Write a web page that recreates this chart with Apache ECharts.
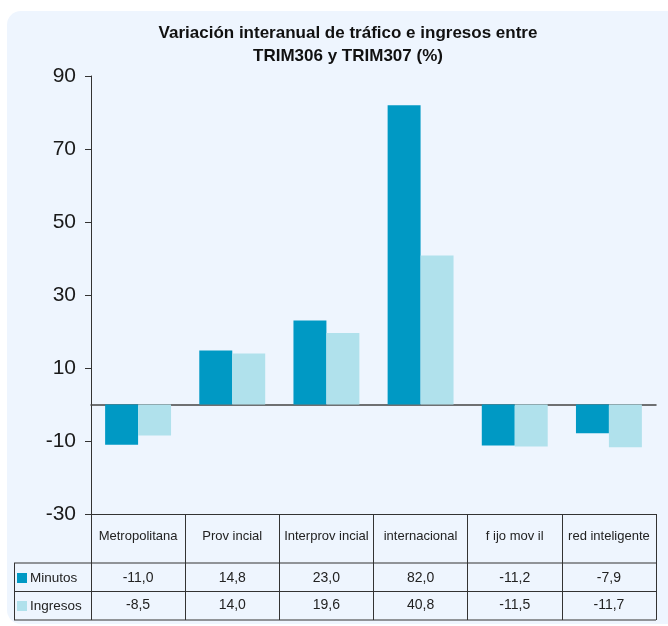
<!DOCTYPE html>
<html>
<head>
<meta charset="utf-8">
<script src="https://cdn.jsdelivr.net/npm/echarts@6/dist/echarts.min.js"></script>
<style>
  html, body { margin: 0; padding: 0; background: #fff; }
  #chart { width: 668px; height: 626px; }
</style>
</head>
<body>
<div id="chart"></div>
<script>
// datos del gráfico
var categorias = ["Metropolitana", "Prov incial", "Interprov incial", "internacional", "f ijo mov il", "red inteligente"];
var minutos = [-11.0, 14.8, 23.0, 82.0, -11.2, -7.9];
var ingresos = [-8.5, 14.0, 19.6, 40.8, -11.5, -11.7];
var ejeY = { min: -30, max: 90, interval: 20 };

function coma(v) {
  return v.toFixed(1).replace(".", ",");
}

var myChart = echarts.init(document.getElementById("chart"));
var font = "Liberation Sans, Arial, sans-serif";
var linea = "#333";

var option = {
  animation: false,
  backgroundColor: "#fff",
  color: ["#0099C4", "#B0E1EC"],
  textStyle: { fontFamily: font },
  title: {
    text: "Variación interanual de tráfico e ingresos entre\nTRIM306 y TRIM307 (%)",
    left: 343,
    top: 17,
    textAlign: "center",
    textStyle: {
      fontFamily: font,
      fontSize: 17,
      fontWeight: "bold",
      color: "#111",
      lineHeight: 23
    }
  },
  legend: {
    orient: "vertical",
    left: 12,
    top: 566,
    itemWidth: 10,
    itemHeight: 10,
    itemGap: 14,
    icon: "rect",
    textStyle: { fontFamily: font, fontSize: 13.5, color: "#222", padding: [0, 0, 0, -2] },
    data: ["Minutos", "Ingresos"]
  },
  grid: {
    left: 91,
    right: 12,
    top: 76,
    bottom: 112
  },
  xAxis: [
    {
      // línea del cero
      type: "category",
      data: categorias,
      axisLine: { onZero: true, lineStyle: { color: "#444", width: 1.5 } },
      axisTick: { show: false },
      axisLabel: { show: false }
    },
    {
      // fila de categorías de la tabla
      type: "category",
      data: categorias,
      position: "bottom",
      axisLine: { onZero: false, lineStyle: { color: linea } },
      axisTick: { show: true, length: 106, interval: 0, lineStyle: { color: linea } },
      axisLabel: { interval: 0, margin: 16, fontSize: 13, color: "#222", fontFamily: font }
    },
    {
      type: "category",
      data: categorias,
      position: "bottom",
      axisLine: { show: false, onZero: false },
      axisTick: { show: false },
      axisLabel: {
        interval: 0, margin: 57, fontSize: 14, color: "#222", fontFamily: font,
        formatter: function (v, i) { return coma(minutos[i]); }
      }
    },
    {
      type: "category",
      data: categorias,
      position: "bottom",
      axisLine: { show: false, onZero: false },
      axisTick: { show: false },
      axisLabel: {
        interval: 0, margin: 84, fontSize: 14, color: "#222", fontFamily: font,
        formatter: function (v, i) { return coma(ingresos[i]); }
      }
    }
  ],
  yAxis: {
    type: "value",
    min: ejeY.min,
    max: ejeY.max,
    interval: ejeY.interval,
    axisLine: { show: true, lineStyle: { color: linea } },
    axisTick: { show: true, length: 6, lineStyle: { color: linea } },
    splitLine: { show: false },
    axisLabel: { fontSize: 21, color: "#1a1a1a", margin: 15, fontFamily: font }
  },
  series: [
    {
      name: "Minutos",
      type: "bar",
      data: minutos,
      barGap: "0%",
      barCategoryGap: "30%"
    },
    {
      name: "Ingresos",
      type: "bar",
      data: ingresos,
      barGap: "0%",
      barCategoryGap: "30%"
    }
  ],
  graphic: [
    {
      type: "rect",
      z: -100,
      shape: { x: 7, y: 11, width: 680, height: 613, r: 14 },
      style: { fill: "#EEF5FE" }
    },
    // bordes de la tabla
    { type: "line", shape: { x1: 14, y1: 563, x2: 656, y2: 563 }, style: { stroke: linea, lineWidth: 1 } },
    { type: "line", shape: { x1: 14, y1: 591.5, x2: 656, y2: 591.5 }, style: { stroke: linea, lineWidth: 1 } },
    { type: "line", shape: { x1: 14, y1: 620, x2: 656, y2: 620 }, style: { stroke: linea, lineWidth: 1 } },
    { type: "line", shape: { x1: 14.5, y1: 563, x2: 14.5, y2: 620 }, style: { stroke: linea, lineWidth: 1 } }
  ]
};

myChart.setOption(option);
</script>
</body>
</html>
